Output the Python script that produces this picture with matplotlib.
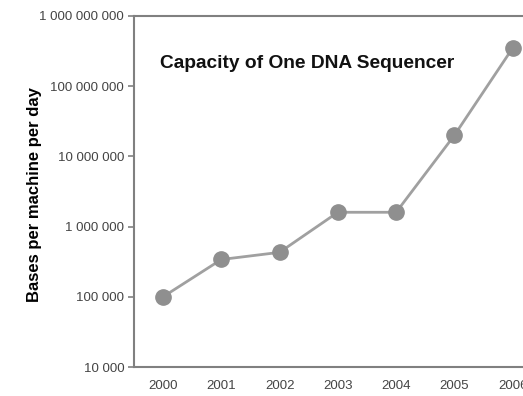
import numpy as np
import matplotlib
matplotlib.use("Agg")
from matplotlib import pyplot as plt
from matplotlib.ticker import FuncFormatter

years = ["2000", "2001", "2002", "2003", "2004", "2005", "2006"]
bases_per_day = [1.0e5, 3.4e5, 4.3e5, 1.6e6, 1.6e6, 2.0e7, 3.5e8]
y_ticks = [1e4, 1e5, 1e6, 1e7, 1e8, 1e9]

plt.rcParams["font.family"] = ["Liberation Sans", "DejaVu Sans"]

fig = plt.figure(figsize=(5.23, 3.96), dpi=100)
# axes run a little past the right edge, so the last year is cut off
ax = fig.add_axes([0.256, 0.0732, 0.78, 0.8864])

x = np.arange(len(years))
ax.plot(x, bases_per_day, color="#a0a0a0", lw=2, marker="o", ms=11,
        mfc="#8f8f8f", mec="#8f8f8f", zorder=3, clip_on=False)

ax.set_yscale("log")
ax.set_ylim(1e4, 1e9)
ax.set_yticks(y_ticks)
ax.yaxis.set_minor_locator(plt.NullLocator())
ax.yaxis.set_major_formatter(FuncFormatter(lambda v, p: f"{int(round(v)):,}".replace(",", " ")))
ax.set_xlim(-0.5, len(years) - 0.5)
ax.set_xticks(x)
ax.set_xticklabels(years)

ax.spines["right"].set_visible(False)
for side in ["left", "top", "bottom"]:
    ax.spines[side].set_color("#808080")
    ax.spines[side].set_linewidth(1.5)

ax.tick_params(axis="y", length=4, width=1.2, color="#808080", labelsize=9.5, labelcolor="#444444", pad=3)
ax.tick_params(axis="x", length=0, labelsize=9.5, labelcolor="#444444", pad=9)

ax.set_ylabel("Bases per machine per day", fontsize=12, fontweight="bold")
ax.yaxis.set_label_coords(-0.225, 0.49)
ax.text(0.064, 0.865, "Capacity of One DNA Sequencer", transform=ax.transAxes,
        fontsize=13.8, fontweight="bold", color="#111111", va="center")

fig.savefig("out.png", dpi=100)
